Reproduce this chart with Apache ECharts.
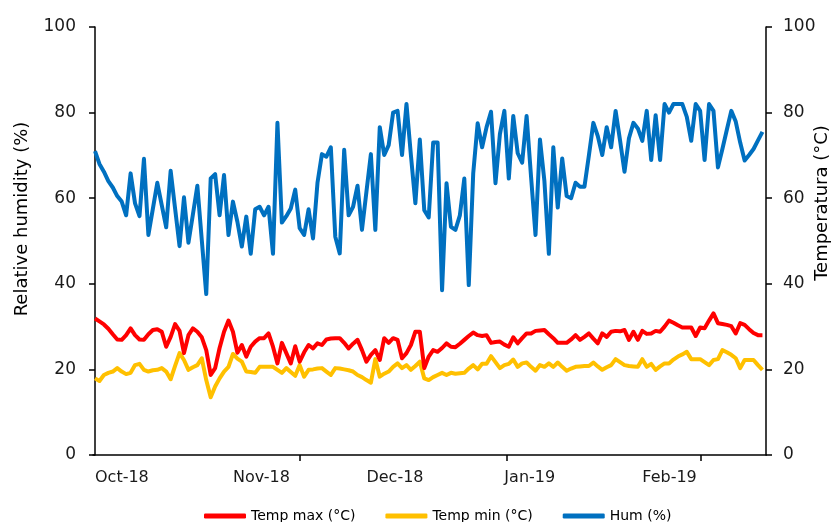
<!DOCTYPE html>
<html>
<head>
<meta charset="utf-8">
<script src="https://cdn.jsdelivr.net/npm/echarts@6/dist/echarts.min.js"></script>
<style>
  html, body { margin: 0; padding: 0; background: #fff; }
  #chart { width: 837px; height: 522px; }
</style>
</head>
<body>
<div id="chart"></div>
<script>
// Daily series, 1 Oct 2018 (day 0) to 28 Feb 2019 (day 150)
const humidity = [
  71, 68, 66.2, 64, 62.5, 60.5, 59.2, 56, 65.8, 58.8,
  55.8, 69.2, 51.4, 57.5, 63.6, 58.4, 53.2, 66.4, 57.6, 48.8,
  60.2, 49.6, 56.2, 62.9, 50.2, 37.6, 64.6, 65.6, 56, 65.4,
  51.4, 59.2, 54.5, 48.7, 55.7, 47, 57.4, 58, 56, 58,
  47, 77.6, 54.3, 55.8, 57.6, 62, 53, 51.4, 57.4, 50.6,
  63.6, 70.3, 69.7, 71.9, 51, 47.1, 71.3, 56, 58, 62.9,
  52.6, 61.5, 70.3, 52.6, 76.6, 70.1, 72.4, 80, 80.4, 70.1,
  82, 70, 58.8, 73.7, 57.2, 55.5, 73, 73, 38.5, 63.5,
  53.3, 52.6, 56, 64.6, 39.7, 65.8, 77.5, 71.9, 76.6, 80.2,
  63.5, 75, 80.4, 64.6, 79.2, 70.5, 68.3, 79.2, 65, 51.4,
  73.7, 64, 47, 71.9, 57.8, 69.3, 60.5, 60, 63.6, 62.7,
  62.7, 70, 77.6, 74.5, 70.1, 76.6, 71.9, 80.4, 73.5, 66.2,
  74, 77.6, 76.3, 73.4, 80.4, 68.9, 79.4, 68.9, 82, 80,
  82, 82, 82, 79, 73.4, 82, 80.4, 68.9, 82, 80.4,
  67.2, 71.5, 76, 80.4, 77.9, 73, 68.8, 70.1, 71.5, 73.5,
  75.5
];

const tempMax = [
  31.9, 31.2, 30.5, 29.5, 28.2, 27, 26.9, 28, 29.6, 28,
  27, 26.9, 28.2, 29.2, 29.4, 28.8, 25.3, 27.6, 30.6, 29,
  23.8, 28, 29.6, 28.8, 27.5, 24.5, 18.7, 20.3, 25, 28.8,
  31.4, 28.8, 23.9, 25.7, 23, 25.3, 26.5, 27.3, 27.3, 28.4,
  25.3, 21.4, 26.2, 23.8, 21.4, 25.4, 21.8, 24, 25.7, 24.9,
  26.1, 25.7, 27, 27.2, 27.3, 27.3, 26.2, 24.9, 26, 26.9,
  24.5, 21.8, 23.4, 24.5, 22.2, 27.3, 26.2, 27.3, 26.9, 22.6,
  23.8, 25.7, 28.8, 28.8, 20.3, 23, 24.5, 24.1, 25, 26.1,
  25.3, 25.2, 26, 26.9, 27.8, 28.6, 28, 27.8, 28, 26.2,
  26.4, 26.5, 25.8, 25.3, 27.5, 26.1, 27.3, 28.4, 28.4, 29,
  29.1, 29.2, 28.2, 27.3, 26.2, 26.2, 26.2, 27, 28, 26.9,
  27.6, 28.4, 27.2, 26.1, 28.4, 27.6, 28.8, 29, 28.9, 29.2,
  26.9, 28.8, 26.9, 29, 28.3, 28.4, 29, 28.8, 30, 31.4,
  30.9, 30.3, 29.8, 29.8, 29.8, 27.8, 29.8, 29.6, 31.4, 33.1,
  30.8, 30.6, 30.4, 30.1, 28.4, 30.8, 30.4, 29.4, 28.5, 28,
  28
];

const tempMin = [
  17.9, 17.3, 18.7, 19.2, 19.5, 20.3, 19.5, 18.9, 19.2, 21,
  21.3, 19.9, 19.5, 19.8, 19.9, 20.3, 19.5, 17.7, 20.8, 23.8,
  22.2, 19.9, 20.5, 21, 22.6, 17.5, 13.5, 16, 17.9, 19.5,
  20.6, 23.6, 22.5, 21.8, 19.5, 19.4, 19.2, 20.6, 20.6, 20.6,
  20.6, 19.9, 19.2, 20.3, 19.4, 18.5, 21, 18.3, 19.9, 20,
  20.2, 20.3, 19.5, 18.7, 20.3, 20.2, 20, 19.8, 19.5, 18.7,
  18.2, 17.5, 16.9, 22.4, 18.3, 19, 19.5, 20.6, 21.4, 20.3,
  21, 19.9, 20.8, 21.8, 17.9, 17.5, 18.2, 18.7, 19.2, 18.7,
  19.2, 19, 19.1, 19.2, 20.2, 21, 20, 21.3, 21.3, 23.1,
  21.7, 20.3, 21, 21.3, 22.3, 20.6, 21.4, 21.6, 20.6, 19.7,
  21, 20.6, 21.4, 20.6, 21.6, 20.6, 19.7, 20.2, 20.6, 20.7,
  20.8, 20.8, 21.6, 20.7, 19.9, 20.5, 21, 22.4, 21.7, 21,
  20.8, 20.7, 20.6, 22.4, 20.6, 21.3, 19.9, 20.7, 21.4, 21.4,
  22.3, 23, 23.5, 24.1, 22.4, 22.4, 22.4, 21.7, 21, 22.2,
  22.4, 24.5, 24, 23.4, 22.6, 20.3, 22.2, 22.2, 22.2, 21,
  19.9
];

// Month labels and the day each one starts on
const monthLabels = ['Oct-18', 'Nov-18', 'Dec-18', 'Jan-19', 'Feb-19'];
const monthStartDays = [0, 31, 61, 92, 123];
// Major tick marks along the date axis (day offsets)
const dateTickDays = [46, 92.6, 136.2];

const seriesNames = ['Temp max (\u00b0C)', 'Temp min (\u00b0C)', 'Hum (%)'];
const seriesColors = ['#ff0000', '#ffc000', '#0070c0'];
const axisTitles = ['Relative humidity (%)', 'Temperatura (\u00b0C)'];

const toPairs = arr => arr.map((v, i) => [i, v]);
const FONT = 'DejaVu Sans';

const axisLineStyle = { color: '#000', width: 1.5 };

const yAxisBase = {
  type: 'value', min: 0, max: 100, interval: 20,
  splitLine: { show: false },
  axisLine: { show: true, lineStyle: axisLineStyle },
  axisTick: { show: true, length: 6, lineStyle: axisLineStyle },
  axisLabel: { color: '#1a1a1a', fontSize: 17, fontFamily: FONT, margin: 17 }
};

const titleStyle = { fill: '#000', fontSize: 18, fontFamily: FONT, align: 'center', verticalAlign: 'middle' };

const chart = echarts.init(document.getElementById('chart'), null, { renderer: 'canvas' });
chart.setOption({
  animation: false,
  backgroundColor: '#fff',
  grid: { left: 93, right: 71, top: 27, bottom: 67, outerBoundsMode: 'none', containLabel: false },
  legend: {
    top: 504,
    left: 199,
    itemWidth: 42,
    itemHeight: 5,
    itemGap: 30,
    icon: 'roundRect',
    data: seriesNames,
    textStyle: { color: '#000', fontSize: 14, fontFamily: FONT }
  },
  graphic: [
    { type: 'text', x: 22, y: 219, rotation: Math.PI / 2, style: Object.assign({ text: axisTitles[0] }, titleStyle) },
    { type: 'text', x: 822, y: 203, rotation: Math.PI / 2, style: Object.assign({ text: axisTitles[1] }, titleStyle) }
  ],
  xAxis: {
    type: 'value',
    min: -0.45,
    max: 150.8,
    splitLine: { show: false },
    axisLine: { show: true, onZero: false, lineStyle: axisLineStyle },
    axisTick: { show: true, length: 6, lineStyle: axisLineStyle, customValues: dateTickDays },
    axisLabel: {
      customValues: monthStartDays,
      formatter: v => monthLabels[monthStartDays.indexOf(Math.round(v))] || '',
      align: 'left',
      margin: 15,
      color: '#1a1a1a', fontSize: 16, fontFamily: FONT
    }
  },
  yAxis: [
    Object.assign({}, yAxisBase, { position: 'left' }),
    Object.assign({}, yAxisBase, { position: 'right' })
  ],
  series: [
    { name: seriesNames[0], type: 'line', yAxisIndex: 1, data: toPairs(tempMax) },
    { name: seriesNames[1], type: 'line', yAxisIndex: 1, data: toPairs(tempMin) },
    { name: seriesNames[2], type: 'line', yAxisIndex: 0, data: toPairs(humidity) }
  ].map((s, i) => Object.assign(s, {
    showSymbol: false,
    symbol: 'none',
    color: seriesColors[i],
    lineStyle: { color: seriesColors[i], width: 4, join: 'round' },
    z: i === 0 ? 4 : (i === 1 ? 3 : 2)
  }))
});
</script>
</body>
</html>
